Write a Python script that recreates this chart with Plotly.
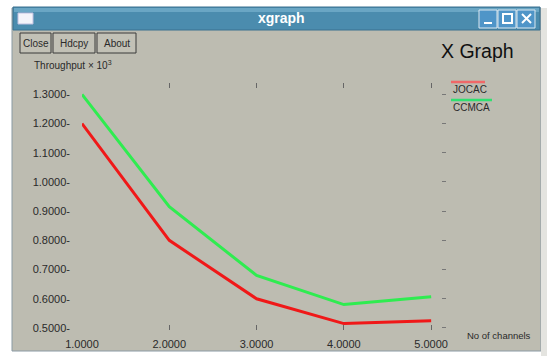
import plotly.graph_objects as go

# ---- data ----
channels = [1, 2, 3, 4, 5]
jocac = [1.20, 0.80, 0.60, 0.515, 0.525]
ccmca = [1.30, 0.915, 0.68, 0.58, 0.607]
x_ticks = [1, 2, 3, 4, 5]
x_tick_labels = ["1.0000", "2.0000", "3.0000", "4.0000", "5.0000"]
y_ticks = [0.5, 0.6, 0.7, 0.8, 0.9, 1.0, 1.1, 1.2, 1.3]
y_tick_labels = ["0.5000-", "0.6000-", "0.7000-", "0.8000-", "0.9000-",
                 "1.0000-", "1.1000-", "1.2000-", "1.3000-"]

W, H = 547, 356
L, R, T, B = 82, 446, 83, 330  # plot area in pixels


def px(x):
    return (x - L) / (R - L)


def py(y):
    return (B - y) / (B - T)


BODY = "#bdbcb1"
TXT = "#2a2a2a"
FONT = "Liberation Sans"

fig = go.Figure()
fig.add_trace(go.Scatter(x=channels, y=ccmca, mode="lines", name="CCMCA",
                         line=dict(color="#2fec50", width=3), showlegend=False))
fig.add_trace(go.Scatter(x=channels, y=jocac, mode="lines", name="JOCAC",
                         line=dict(color="#f01818", width=3), showlegend=False))
# dummy trace for right-side tick marks
fig.add_trace(go.Scatter(x=[None], y=[None], yaxis="y2", showlegend=False))

shapes = []
# window body
shapes.append(dict(type="rect", xref="paper", yref="paper", layer="below",
                   x0=px(12), x1=px(541), y0=py(351), y1=py(8),
                   fillcolor=BODY, line=dict(color="#8a9aa4", width=1)))
# right light strip
shapes.append(dict(type="rect", xref="paper", yref="paper", layer="below",
                   x0=px(541), x1=px(547), y0=py(356), y1=py(8),
                   fillcolor="#e4e4e0", line=dict(width=0)))
# title bar
shapes.append(dict(type="rect", xref="paper", yref="paper",
                   x0=px(13), x1=px(540), y0=py(30), y1=py(7),
                   fillcolor="#4b8cae", line=dict(color="#3a7090", width=1)))
shapes.append(dict(type="rect", xref="paper", yref="paper",
                   x0=px(14), x1=px(539), y0=py(12), y1=py(8),
                   fillcolor="#6aa6c4", line=dict(width=0)))
# title icon
shapes.append(dict(type="rect", xref="paper", yref="paper",
                   x0=px(18), x1=px(33), y0=py(24), y1=py(13),
                   fillcolor="#f4f4fa", line=dict(color="#c0c0e0", width=1)))
# window buttons
for bx in (479, 498, 517):
    shapes.append(dict(type="rect", xref="paper", yref="paper",
                       x0=px(bx), x1=px(bx + 18), y0=py(28), y1=py(10),
                       fillcolor="#4f95c8", line=dict(color="#dce8f0", width=1)))
shapes.append(dict(type="line", xref="paper", yref="paper",
                   x0=px(484), x1=px(492), y0=py(23), y1=py(23),
                   line=dict(color="white", width=2)))
shapes.append(dict(type="rect", xref="paper", yref="paper",
                   x0=px(503), x1=px(512), y0=py(23), y1=py(14),
                   line=dict(color="white", width=2)))
shapes.append(dict(type="line", xref="paper", yref="paper",
                   x0=px(522), x1=px(531), y0=py(23), y1=py(14),
                   line=dict(color="white", width=2)))
shapes.append(dict(type="line", xref="paper", yref="paper",
                   x0=px(522), x1=px(531), y0=py(14), y1=py(23),
                   line=dict(color="white", width=2)))
# control buttons
for x0, x1 in ((20, 51), (53, 95), (97, 136)):
    shapes.append(dict(type="rect", xref="paper", yref="paper",
                       x0=px(x0), x1=px(x1), y0=py(53), y1=py(33),
                       fillcolor="#c2c1b6", line=dict(color="#3a3a3a", width=1)))
# legend overlines
shapes.append(dict(type="line", xref="paper", yref="paper",
                   x0=px(451), x1=px(485), y0=py(82), y1=py(82),
                   line=dict(color="#f06868", width=2.5)))
shapes.append(dict(type="line", xref="paper", yref="paper",
                   x0=px(451), x1=px(492), y0=py(100), y1=py(100),
                   line=dict(color="#30e070", width=2.5)))


def ann(text, x, y, size, color=TXT, xanchor="center"):
    return dict(text=text, x=px(x), y=py(y), xref="paper", yref="paper",
                xanchor=xanchor, yanchor="middle", showarrow=False,
                font=dict(family=FONT, size=size, color=color))


annotations = [
    ann("<b>xgraph</b>", 281, 18, 14, "white"),
    ann("Close", 35.5, 43, 10),
    ann("Hdcpy", 74, 43, 10),
    ann("About", 116.5, 43, 10),
    ann("X Graph", 478, 51, 19.5, "#111"),
    ann("Throughput × 10<sup>3</sup>", 32, 65, 10, xanchor="left"),
    ann("JOCAC", 451, 89, 10, xanchor="left"),
    ann("CCMCA", 451, 107, 10, xanchor="left"),
    ann("No of channels", 465, 335, 9.5, xanchor="left"),
]

fig.update_layout(
    width=W, height=H,
    margin=dict(l=L, r=W - R, t=T, b=H - B, autoexpand=False),
    paper_bgcolor="white", plot_bgcolor=BODY,
    showlegend=False,
    shapes=shapes, annotations=annotations,
    xaxis=dict(range=[1, 5.17], tickvals=x_ticks, ticktext=x_tick_labels,
               showgrid=False, zeroline=False, showline=False, automargin=False,
               ticks="inside", ticklen=5, tickcolor="#666", mirror="ticks",
               ticklabelstandoff=6,
               tickfont=dict(family=FONT, size=11, color=TXT)),
    yaxis=dict(range=[0.493, 1.339], tickvals=y_ticks, ticktext=y_tick_labels,
               showgrid=False, zeroline=False, showline=False, ticks="",
               ticklabelstandoff=11, automargin=False,
               tickfont=dict(family=FONT, size=11, color=TXT)),
    yaxis2=dict(range=[0.493, 1.339], tickvals=y_ticks, overlaying="y", side="right",
                showgrid=False, zeroline=False, showline=False, showticklabels=False,
                automargin=False, ticks="inside", ticklen=4, tickcolor="#777"),
)

fig.write_html("out.html", config={"displayModeBar": False},
               post_script="document.body.style.margin='0';")
